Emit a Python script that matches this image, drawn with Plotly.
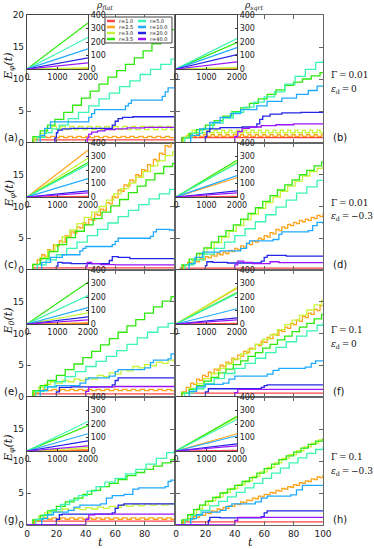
import plotly.graph_objects as go

r_values = [1.0, 2.5, 3.0, 3.5, 5.0, 10.0, 20.0, 40.0]
line_colors = ["#ff4545", "#ffa31a", "#c6f53a", "#2ee80e", "#3cf5b0", "#1faaff", "#2424e6", "#9a14ff"]

# main panels: (t, E) step points for each r value, drawn with shape="hv"
a_curves = [
    [(0, 0), (4, 0.5), (100, 0.5)],
    [(0, 0), (5, 0.6), (7, 0.9), (10, 1.05), (13, 0.85), (16, 1.05), (19, 0.85), (22, 1.05), (25, 0.85), (28, 1.05), (31, 0.85), (34, 1.05), (37, 0.85), (40, 1.05), (43, 0.85), (46, 1.05), (49, 0.85), (52, 1.05), (55, 0.85), (58, 1.05), (61, 0.85), (64, 1.05), (67, 0.85), (70, 1.05), (73, 0.85), (76, 1.05), (79, 0.85), (82, 1.05), (85, 0.85), (88, 1.05), (91, 0.85), (94, 1.05), (97, 0.85), (100, 0.85)],
    [(0, 0), (5, 0.8), (9, 1.5), (13, 2.3), (17, 2.6), (20, 2.1), (23, 2.6), (26, 2.1), (29, 2.6), (32, 2.1), (35, 2.6), (38, 2.1), (41, 2.6), (44, 2.1), (47, 2.6), (50, 2.1), (53, 2.6), (56, 2.1), (59, 2.6), (62, 2.1), (65, 2.6), (68, 2.1), (71, 2.6), (74, 2.1), (77, 2.6), (80, 2.1), (83, 2.6), (86, 2.1), (89, 2.6), (92, 2.1), (95, 2.6), (98, 2.1), (100, 2.1)],
    [(0, 0), (4, 1.0), (9, 1.9), (14, 2.8), (19, 3.7), (25, 4.8), (31, 5.9), (37, 7.0), (43, 8.1), (49, 9.2), (55, 10.3), (61, 11.3), (67, 12.3), (73, 13.3), (79, 14.4), (85, 15.5), (91, 16.6), (97, 17.7), (100, 17.7)],
    [(0, 0), (7, 0.9), (12, 1.6), (17, 2.2), (22, 2.8), (28, 3.8), (35, 4.8), (42, 5.8), (49, 6.9), (56, 7.8), (63, 8.8), (70, 9.7), (77, 10.7), (84, 11.5), (91, 12.3), (98, 13.1), (100, 13.1)],
    [(0, 0), (9, 1.2), (12, 2.3), (16, 3.3), (42, 4.0), (44, 4.6), (46, 5.2), (67, 5.8), (69, 6.2), (71, 6.7), (92, 7.3), (94, 8.0), (96, 8.6), (100, 8.6)],
    [(0, 0), (19, 0.8), (20, 1.6), (21, 2.0), (24, 2.2), (30, 2.3), (58, 2.8), (60, 3.4), (62, 3.8), (65, 4.0), (72, 4.1), (100, 4.1)],
    [(0, 0), (41, 0.8), (42, 1.4), (44, 1.7), (48, 1.9), (53, 2.1), (60, 2.2), (68, 2.35), (80, 2.45), (100, 2.5)],
]
b_curves = [
    [(0, 0), (4, 0.85), (100, 0.85)],
    [(0, 0), (5, 0.8), (7, 1.1), (9, 1.3), (11, 1.05), (14, 1.3), (16, 1.05), (19, 1.3), (21, 1.05), (24, 1.3), (26, 1.05), (29, 1.3), (31, 1.05), (34, 1.3), (36, 1.05), (39, 1.3), (41, 1.05), (44, 1.3), (46, 1.05), (49, 1.3), (51, 1.05), (54, 1.3), (56, 1.05), (59, 1.3), (61, 1.05), (64, 1.3), (66, 1.05), (69, 1.3), (71, 1.05), (74, 1.3), (76, 1.05), (79, 1.3), (81, 1.05), (84, 1.3), (86, 1.05), (89, 1.3), (91, 1.05), (94, 1.3), (96, 1.05), (99, 1.3), (100, 1.3)],
    [(0, 0), (5, 0.9), (8, 1.4), (11, 2.0), (13, 1.6), (16, 2.0), (18, 1.6), (21, 2.0), (23, 1.6), (26, 2.0), (28, 1.6), (31, 2.0), (33, 1.6), (36, 2.0), (38, 1.6), (41, 2.0), (43, 1.6), (46, 2.0), (48, 1.6), (51, 2.0), (53, 1.6), (56, 2.0), (58, 1.6), (61, 2.0), (63, 1.6), (66, 2.0), (68, 1.6), (71, 2.0), (73, 1.6), (76, 2.0), (78, 1.6), (81, 2.0), (83, 1.6), (86, 2.0), (88, 1.6), (91, 2.0), (93, 1.6), (96, 2.0), (98, 1.6), (100, 1.6)],
    [(0, 0), (4, 0.8), (9, 1.5), (14, 2.1), (20, 2.8), (26, 3.5), (32, 4.2), (38, 4.9), (44, 5.5), (50, 6.2), (56, 6.9), (62, 7.6), (68, 8.3), (74, 9.0), (80, 9.5), (86, 10.0), (92, 10.5), (98, 11.0), (100, 11.0)],
    [(0, 0), (6, 0.8), (11, 1.5), (18, 2.3), (25, 3.1), (32, 3.9), (39, 4.8), (46, 5.6), (53, 6.4), (60, 7.2), (67, 8.0), (74, 9.2), (81, 10.4), (88, 11.5), (95, 12.6), (100, 12.9)],
    [(0, 0), (10, 1.2), (16, 2.2), (23, 3.2), (30, 4.0), (37, 4.6), (44, 5.2), (55, 5.8), (62, 6.5), (72, 7.0), (82, 7.6), (90, 8.2), (96, 8.9), (100, 8.9)],
    [(0, 0), (20, 1.0), (21, 1.8), (23, 2.2), (30, 2.4), (45, 2.5), (55, 3.0), (57, 3.7), (59, 4.2), (64, 4.5), (72, 4.7), (85, 4.8), (100, 4.8)],
    [(0, 0), (40, 1.0), (42, 1.8), (45, 2.3), (50, 2.5), (58, 2.7), (68, 2.85), (80, 3.0), (100, 3.05)],
]
c_curves = [
    [(0, 0), (4, 0.35), (100, 0.35)],
    [(0, 0), (4, 0.8), (7, 1.6), (10, 2.4), (12, 2.2), (14, 3.2), (16, 3.0), (18, 4.0), (20, 3.8), (22, 4.6), (24, 4.4), (26, 5.4), (28, 5.2), (30, 6.0), (32, 5.8), (34, 6.8), (36, 6.6), (38, 7.4), (40, 7.2), (42, 8.0), (44, 7.8), (46, 8.8), (48, 8.6), (50, 9.6), (52, 9.4), (54, 10.6), (56, 10.4), (58, 11.6), (60, 11.4), (62, 12.6), (64, 12.4), (66, 13.4), (68, 13.2), (70, 14.2), (72, 14.0), (74, 15.0), (76, 14.8), (78, 15.8), (80, 15.6), (82, 16.6), (84, 16.4), (86, 17.4), (88, 17.2), (90, 18.4), (92, 18.2), (94, 19.6), (96, 19.4), (98, 20.4), (100, 20.4)],
    [(0, 0), (4, 0.9), (9, 2.0), (14, 3.0), (19, 4.0), (24, 5.2), (29, 6.3), (34, 7.3), (39, 8.3), (44, 9.1), (49, 10.0), (54, 11.0), (59, 12.0), (64, 12.8), (69, 13.7), (74, 14.6), (79, 15.5), (84, 16.4), (89, 17.2), (94, 18.0), (99, 18.6), (100, 18.6)],
    [(0, 0), (4, 0.9), (9, 1.8), (15, 2.9), (21, 4.0), (27, 5.1), (33, 6.1), (39, 7.1), (45, 8.1), (51, 9.1), (57, 10.1), (63, 11.1), (69, 12.2), (75, 13.2), (81, 14.2), (87, 15.2), (93, 16.3), (99, 16.8), (100, 16.8)],
    [(0, 0), (7, 0.8), (13, 1.6), (20, 2.4), (27, 3.4), (34, 4.4), (41, 5.4), (48, 6.4), (55, 7.4), (62, 8.4), (69, 9.4), (76, 10.3), (83, 11.2), (90, 12.0), (97, 12.7), (100, 12.7)],
    [(0, 0), (10, 1.2), (16, 2.0), (24, 2.4), (36, 3.0), (38, 3.4), (40, 3.7), (58, 4.0), (60, 4.5), (62, 5.0), (84, 5.3), (86, 6.0), (88, 6.4), (97, 6.3), (100, 6.1)],
    [(0, 0), (20, 0.6), (21, 1.2), (24, 1.1), (30, 1.0), (56, 1.5), (58, 2.1), (62, 2.0), (70, 1.8), (100, 1.8)],
    [(0, 0), (40, 0.6), (41, 1.2), (44, 1.0), (50, 0.85), (60, 0.8), (100, 0.8)],
]
d_curves = [
    [(0, 0), (3, 0.3), (100, 0.3)],
    [(0, 0), (5, 0.8), (8, 1.2), (10, 1.0), (12, 1.5), (14, 1.3), (16, 1.8), (18, 1.6), (20, 2.1), (22, 1.9), (24, 2.4), (26, 2.2), (28, 2.6), (30, 2.4), (32, 2.8), (34, 2.6), (36, 3.1), (38, 2.9), (40, 3.4), (42, 3.2), (44, 3.8), (46, 3.6), (48, 4.2), (50, 4.0), (52, 4.6), (54, 4.4), (56, 5.0), (58, 4.8), (60, 5.4), (62, 5.2), (64, 5.9), (66, 5.7), (68, 6.4), (70, 6.2), (72, 6.8), (74, 6.6), (76, 7.2), (78, 7.0), (80, 7.5), (82, 7.3), (84, 7.8), (86, 7.6), (88, 8.0), (90, 7.8), (92, 8.3), (94, 8.1), (96, 8.6), (98, 8.4), (100, 8.9)],
    [(0, 0), (6, 0.8), (11, 1.6), (16, 2.5), (21, 3.4), (26, 4.3), (31, 5.2), (36, 6.1), (41, 7.0), (46, 7.9), (51, 8.8), (56, 9.7), (61, 10.6), (66, 11.5), (71, 12.4), (76, 13.2), (81, 14.0), (86, 14.8), (91, 15.5), (96, 16.0), (100, 16.3)],
    [(0, 0), (4, 0.8), (9, 1.7), (14, 2.6), (19, 3.5), (24, 4.4), (29, 5.3), (34, 6.2), (39, 7.1), (44, 8.0), (49, 8.9), (54, 9.8), (59, 10.8), (64, 11.7), (69, 12.6), (74, 13.4), (79, 14.2), (84, 15.0), (89, 15.7), (94, 16.4), (99, 17.0), (100, 17.0)],
    [(0, 0), (6, 0.8), (12, 1.6), (19, 2.5), (26, 3.4), (33, 4.4), (40, 5.4), (47, 6.5), (54, 7.6), (61, 8.7), (68, 9.9), (75, 11.0), (82, 12.1), (89, 13.1), (96, 14.1), (100, 14.2)],
    [(0, 0), (9, 1.0), (13, 2.0), (18, 2.8), (30, 3.0), (44, 3.4), (48, 4.2), (50, 4.6), (66, 4.8), (70, 5.6), (72, 6.0), (90, 6.2), (93, 7.0), (96, 7.5), (100, 7.2)],
    [(0, 0), (20, 0.7), (21, 1.3), (25, 1.2), (35, 1.1), (58, 1.4), (60, 2.0), (62, 2.3), (75, 2.2), (100, 2.2)],
    [(0, 0), (40, 0.8), (42, 1.4), (46, 1.2), (52, 1.0), (62, 1.0), (64, 1.3), (70, 1.15), (100, 1.1)],
]
e_curves = [
    [(0, 0), (4, 0.5), (100, 0.5)],
    [(0, 0), (5, 0.7), (8, 1.0), (11, 1.2), (14, 1.0), (17, 1.2), (20, 1.0), (23, 1.2), (26, 1.0), (29, 1.2), (32, 1.0), (35, 1.2), (38, 1.0), (41, 1.2), (44, 1.0), (47, 1.2), (50, 1.0), (53, 1.2), (56, 1.0), (59, 1.2), (62, 1.0), (65, 1.2), (68, 1.0), (71, 1.2), (74, 1.0), (77, 1.2), (80, 1.0), (83, 1.2), (86, 1.0), (89, 1.2), (92, 1.0), (95, 1.2), (98, 1.0), (100, 1.0)],
    [(0, 0), (4, 0.8), (8, 1.5), (12, 2.0), (16, 2.4), (20, 2.2), (24, 2.6), (28, 2.4), (32, 2.8), (36, 2.6), (40, 3.0), (44, 2.8), (48, 3.4), (52, 3.2), (56, 3.8), (60, 3.6), (64, 4.3), (68, 4.1), (72, 4.8), (76, 4.6), (80, 5.1), (84, 4.9), (88, 5.5), (92, 5.3), (96, 5.8), (100, 5.6)],
    [(0, 0), (4, 1.0), (9, 1.8), (14, 2.6), (20, 3.4), (26, 4.3), (32, 5.2), (38, 6.2), (44, 7.2), (50, 8.2), (56, 9.2), (62, 10.2), (68, 11.2), (74, 12.2), (80, 13.2), (86, 14.2), (92, 15.1), (98, 15.8), (100, 15.8)],
    [(0, 0), (6, 0.9), (12, 1.6), (19, 2.4), (26, 3.2), (33, 4.0), (40, 4.8), (47, 5.6), (54, 6.4), (61, 7.3), (68, 8.3), (75, 9.3), (82, 10.2), (89, 11.0), (96, 11.6), (100, 11.6)],
    [(0, 0), (9, 1.0), (14, 1.6), (20, 1.8), (36, 2.2), (40, 2.8), (42, 3.0), (56, 3.3), (60, 4.0), (62, 4.3), (80, 4.6), (84, 5.4), (86, 5.8), (96, 6.0), (98, 6.8), (100, 6.9)],
    [(0, 0), (20, 0.8), (22, 1.5), (30, 1.6), (58, 1.9), (60, 2.6), (62, 3.0), (100, 3.0)],
    [(0, 0), (40, 0.9), (42, 1.5), (48, 1.6), (60, 1.65), (100, 1.7)],
]
f_curves = [
    [(0, 0), (4, 0.6), (100, 0.6)],
    [(0, 0), (4, 0.8), (7, 1.5), (10, 2.2), (12, 2.0), (14, 2.8), (16, 2.6), (18, 3.4), (20, 3.2), (22, 3.9), (24, 3.7), (26, 4.4), (28, 4.2), (30, 5.0), (32, 4.8), (34, 5.5), (36, 5.3), (38, 6.1), (40, 5.9), (42, 6.6), (44, 6.4), (46, 7.2), (48, 7.0), (50, 7.7), (52, 7.5), (54, 8.3), (56, 8.1), (58, 8.8), (60, 8.6), (62, 9.4), (64, 9.2), (66, 9.9), (68, 9.7), (70, 10.5), (72, 10.3), (74, 11.0), (76, 10.8), (78, 11.6), (80, 11.4), (82, 12.1), (84, 11.9), (86, 12.7), (88, 12.5), (90, 13.2), (92, 13.0), (94, 13.8), (96, 13.6), (98, 14.4), (100, 14.4)],
    [(0, 0), (4, 0.7), (9, 1.4), (14, 2.1), (19, 2.9), (24, 3.7), (29, 4.5), (34, 5.2), (39, 6.0), (44, 6.8), (49, 7.5), (54, 8.3), (59, 9.1), (64, 9.8), (69, 10.6), (74, 11.4), (79, 12.1), (84, 12.9), (89, 13.7), (94, 14.5), (99, 15.2), (100, 15.2)],
    [(0, 0), (4, 0.6), (9, 1.2), (14, 1.8), (19, 2.5), (24, 3.1), (29, 3.8), (34, 4.4), (39, 5.1), (44, 5.7), (49, 6.4), (54, 7.0), (59, 7.7), (64, 8.3), (69, 9.0), (74, 9.6), (79, 10.3), (84, 11.0), (89, 11.6), (94, 12.3), (99, 13.0), (100, 13.0)],
    [(0, 0), (6, 0.6), (12, 1.3), (19, 2.1), (26, 2.9), (33, 3.7), (40, 4.5), (47, 5.3), (54, 6.1), (61, 7.0), (68, 7.8), (75, 8.7), (82, 9.6), (89, 10.4), (96, 11.3), (100, 11.7)],
    [(0, 0), (9, 0.9), (14, 1.6), (20, 2.0), (32, 2.2), (36, 2.8), (40, 3.3), (62, 3.6), (66, 4.2), (70, 4.5), (88, 4.7), (92, 5.3), (95, 5.7), (100, 5.8)],
    [(0, 0), (20, 0.8), (22, 1.3), (30, 1.3), (58, 1.5), (60, 1.8), (62, 1.9), (100, 1.9)],
    [(0, 0), (40, 0.7), (42, 1.2), (50, 1.2), (100, 1.2)],
]
g_curves = [
    [(0, 0), (4, 0.6), (100, 0.6)],
    [(0, 0), (5, 0.7), (8, 0.9), (11, 1.1), (14, 0.9), (17, 1.1), (20, 0.9), (23, 1.1), (26, 0.9), (29, 1.1), (32, 0.9), (35, 1.1), (38, 0.9), (41, 1.1), (44, 0.9), (47, 1.1), (50, 0.9), (53, 1.1), (56, 0.9), (59, 1.1), (62, 0.9), (65, 1.1), (68, 0.9), (71, 1.1), (74, 0.9), (77, 1.1), (80, 0.9), (83, 1.1), (86, 0.9), (89, 1.1), (92, 0.9), (95, 1.1), (98, 0.9), (100, 0.9)],
    [(0, 0), (4, 0.8), (8, 1.4), (12, 1.9), (16, 2.3), (20, 2.1), (24, 2.5), (28, 2.3), (32, 2.6), (36, 2.4), (40, 2.7), (44, 2.5), (48, 2.8), (52, 2.6), (56, 2.9), (60, 2.7), (64, 3.1), (68, 2.9), (72, 3.2), (76, 3.0), (80, 3.3), (84, 3.1), (88, 3.3), (92, 3.1), (96, 3.3), (100, 3.1)],
    [(0, 0), (4, 0.8), (9, 1.5), (14, 2.2), (20, 2.9), (26, 3.6), (32, 4.2), (38, 4.8), (44, 5.4), (50, 6.0), (56, 6.5), (62, 7.1), (68, 7.7), (74, 8.2), (80, 8.7), (86, 9.2), (92, 9.7), (98, 10.2), (100, 10.2)],
    [(0, 0), (6, 0.9), (11, 1.6), (17, 2.4), (23, 3.2), (29, 3.9), (35, 4.6), (41, 5.3), (47, 6.0), (53, 6.7), (60, 7.3), (67, 8.0), (74, 8.7), (81, 9.5), (88, 10.4), (95, 11.3), (100, 11.6)],
    [(0, 0), (10, 1.0), (14, 1.6), (18, 2.0), (28, 2.3), (32, 2.8), (36, 3.1), (50, 3.3), (54, 4.2), (58, 4.6), (66, 4.8), (72, 5.6), (76, 5.8), (94, 6.0), (96, 6.8), (98, 7.0), (100, 7.0)],
    [(0, 0), (20, 0.9), (22, 1.6), (24, 1.7), (58, 1.9), (60, 2.6), (62, 3.1), (66, 3.3), (100, 3.4)],
    [(0, 0), (40, 0.9), (42, 1.6), (46, 1.7), (100, 1.8)],
]
h_curves = [
    [(0, 0), (4, 0.5), (100, 0.5)],
    [(0, 0), (5, 0.7), (8, 1.0), (10, 0.9), (12, 1.3), (14, 1.2), (16, 1.6), (18, 1.5), (20, 1.9), (22, 1.8), (24, 2.2), (26, 2.1), (28, 2.5), (30, 2.4), (32, 2.7), (34, 2.6), (36, 3.0), (38, 2.9), (40, 3.3), (42, 3.2), (44, 3.6), (46, 3.5), (48, 3.9), (50, 3.8), (52, 4.2), (54, 4.1), (56, 4.5), (58, 4.4), (60, 4.8), (62, 4.7), (64, 5.1), (66, 5.0), (68, 5.4), (70, 5.3), (72, 5.7), (74, 5.6), (76, 6.0), (78, 5.9), (80, 6.3), (82, 6.2), (84, 6.6), (86, 6.5), (88, 6.9), (90, 6.8), (92, 7.2), (94, 7.1), (96, 7.5), (98, 7.4), (100, 7.8)],
    [(0, 0), (6, 0.9), (10, 1.7), (14, 2.5), (18, 3.1), (22, 3.8), (27, 4.4), (32, 5.1), (37, 5.7), (42, 6.3), (47, 6.9), (52, 7.6), (57, 8.3), (62, 9.0), (67, 9.7), (72, 10.4), (77, 11.0), (82, 11.6), (87, 12.2), (92, 12.8), (97, 13.3), (100, 13.5)],
    [(0, 0), (4, 0.8), (8, 1.6), (12, 2.4), (16, 3.1), (20, 3.7), (25, 4.3), (30, 5.0), (35, 5.6), (40, 6.2), (45, 6.8), (50, 7.4), (55, 8.1), (60, 8.8), (65, 9.5), (70, 10.2), (75, 10.8), (80, 11.4), (85, 12.0), (90, 12.6), (95, 13.1), (100, 13.6)],
    [(0, 0), (6, 0.8), (11, 1.5), (17, 2.3), (23, 3.0), (29, 3.7), (35, 4.4), (41, 5.1), (47, 5.8), (53, 6.5), (59, 7.3), (65, 8.1), (71, 8.9), (77, 9.7), (83, 10.5), (89, 11.2), (95, 11.8), (100, 12.2)],
    [(0, 0), (10, 1.0), (14, 1.6), (18, 2.0), (30, 2.3), (34, 2.9), (38, 3.3), (54, 3.6), (58, 4.2), (62, 4.5), (78, 4.7), (82, 5.5), (86, 6.2), (100, 6.3)],
    [(0, 0), (22, 0.7), (23, 1.2), (30, 1.1), (58, 1.3), (60, 1.9), (62, 2.2), (100, 2.2)],
    [(0, 0), (40, 0.7), (42, 1.2), (100, 1.25)],
]

# insets: E at t=2000 (lines from the origin)
a_inset = [3, 5, 8, 340, 234, 150, 83, 45]
b_inset = [3, 6, 10, 196, 226, 158, 106, 53]
c_inset = [5, 347, 287, 255, 240, 136, 45, 30]
d_inset = [5, 143, 257, 272, 249, 158, 45, 30]
e_inset = [4, 8, 83, 309, 211, 121, 53, 30]
f_inset = [5, 264, 272, 234, 226, 113, 45, 30]
g_inset = [4, 10, 25, 189, 219, 128, 75, 38]
h_inset = [4, 128, 250, 257, 234, 113, 53, 38]

panels = [
    ("(a)", a_curves, a_inset), ("(b)", b_curves, b_inset),
    ("(c)", c_curves, c_inset), ("(d)", d_curves, d_inset),
    ("(e)", e_curves, e_inset), ("(f)", f_curves, f_inset),
    ("(g)", g_curves, g_inset), ("(h)", h_curves, h_inset),
]
row_params = [("0.01", "0"), ("0.01", "\u22120.3"), ("0.1", "0"), ("0.1", "\u22120.3")]
ylabels = ["E<sub>\u03c6</sub>(t)", "E<sub>\u03c6</sub>(t)", "E<sub>0</sub>(t)", "E<sub>\u03c6</sub>(t)"]

W, H = 374, 549


def fx(px):
    return px / W


def fy(py):
    return 1 - py / H


col_px = [(27, 174), (176, 323)]
row_px = [(15, 143), (143, 270), (270, 397), (397, 525)]
frame = "#666666"
tickfont = dict(family="DejaVu Sans", size=9, color="#222")
insetfont = dict(family="DejaVu Sans", size=8, color="#222")
serif = "DejaVu Serif"
thin = "\u2009"

fig = go.Figure()
layout = {}
annotations = []
shapes = []

for i, (label, curves, inset) in enumerate(panels):
    row, col = i // 2, i % 2
    k = i + 1
    ki = i + 9
    sk = "" if k == 1 else str(k)
    ski = str(ki)
    x0, x1 = col_px[col]
    y0, y1 = row_px[row]

    for pts, c in zip(curves, line_colors):
        fig.add_trace(go.Scatter(
            x=[p[0] for p in pts], y=[p[1] for p in pts], mode="lines",
            line=dict(color=c, width=1.3, shape="hv"),
            xaxis="x" + sk, yaxis="y" + sk, showlegend=False, hoverinfo="skip"))
    for v, c in zip(inset, line_colors):
        fig.add_trace(go.Scatter(
            x=[0, 2000], y=[0, v], mode="lines", line=dict(color=c, width=1.2),
            xaxis="x" + ski, yaxis="y" + ski, showlegend=False, hoverinfo="skip"))

    if col == 0:
        xt = ["0", "20", "40", "60", "80", ""]
    else:
        xt = ["0", "20", "40", "60", "80", "100"]
    layout["xaxis" + sk] = dict(
        domain=[fx(x0), fx(x1)], anchor="y" + sk, range=[0, 100], automargin=False,
        tickvals=[0, 20, 40, 60, 80, 100], ticktext=xt, showticklabels=(row == 3),
        ticks="inside", ticklen=4, tickcolor=frame, showline=True, linecolor=frame,
        linewidth=1.2, mirror="ticks", showgrid=False, zeroline=False, tickfont=tickfont)
    yt = ["0", "5", "10", "15", "20"] if row == 0 else ["0", "5", "10", "15", ""]
    layout["yaxis" + sk] = dict(
        domain=[fy(y1), fy(y0)], anchor="x" + sk, range=[0, 20], automargin=False,
        tickvals=[0, 5, 10, 15, 20], ticktext=yt, showticklabels=(col == 0),
        ticks="inside", ticklen=4, tickcolor=frame, showline=True, linecolor=frame,
        linewidth=1.2, mirror="ticks", showgrid=False, zeroline=False, tickfont=tickfont)
    layout["xaxis" + ski] = dict(
        domain=[fx(x0), fx(x0 + 61)], anchor="y" + ski, range=[0, 2000], automargin=False,
        tickvals=[0, 1000, 2000], ticks="inside", ticklen=2, tickcolor="#333",
        showline=True, linecolor="#444", linewidth=1.2, mirror=True,
        showgrid=False, zeroline=False, tickfont=insetfont)
    layout["yaxis" + ski] = dict(
        domain=[fy(y0 + 54), fy(y0)], anchor="x" + ski, range=[0, 400], side="right",
        automargin=False,
        tickvals=[0, 100, 200, 300, 400], ticks="inside", ticklen=2, tickcolor="#333",
        showline=True, linecolor="#444", linewidth=1.2, mirror=True,
        showgrid=False, zeroline=False, tickfont=insetfont)

    lx = 2 if col == 0 else 331
    annotations.append(dict(x=fx(lx), y=fy(y1 - 6), xref="paper", yref="paper",
                            text=label, showarrow=False, xanchor="left", yanchor="middle",
                            font=dict(family="DejaVu Sans", size=10, color="#111")))

for row in range(4):
    y0, y1 = row_px[row]
    g, e = row_params[row]
    annotations.append(dict(x=fx(329), y=fy(y0 + 60), xref="paper", yref="paper",
                            text="\u0393" + thin + "=" + thin + g, showarrow=False,
                            xanchor="left", yanchor="middle",
                            font=dict(family=serif, size=9, color="#111")))
    annotations.append(dict(x=fx(329), y=fy(y0 + 74), xref="paper", yref="paper",
                            text="<i>\u03b5</i><sub>d</sub>" + thin + "=" + thin + e,
                            showarrow=False, xanchor="left", yanchor="middle",
                            font=dict(family=serif, size=9, color="#111")))
    annotations.append(dict(x=fx(9), y=fy((y0 + y1) / 2 - 12), xref="paper", yref="paper",
                            text="<i>" + ylabels[row] + "</i>", showarrow=False, textangle=-90,
                            xanchor="center", yanchor="middle",
                            font=dict(family=serif, size=11, color="#111")))

for cx in [100, 250]:
    annotations.append(dict(x=fx(cx), y=fy(542), xref="paper", yref="paper", text="<i>t</i>",
                            showarrow=False, xanchor="center", yanchor="middle",
                            font=dict(family=serif, size=11, color="#111")))
annotations.append(dict(x=fx(104), y=fy(6), xref="paper", yref="paper",
                        text="<i>\u03c1</i><sub><i>flat</i></sub>", showarrow=False,
                        xanchor="center", yanchor="middle",
                        font=dict(family=serif, size=9, color="#111")))
annotations.append(dict(x=fx(254), y=fy(6), xref="paper", yref="paper",
                        text="<i>\u03c1</i><sub><i>sqrt</i></sub>", showarrow=False,
                        xanchor="center", yanchor="middle",
                        font=dict(family=serif, size=9, color="#111")))

# legend box in panel (a)
shapes.append(dict(type="rect", xref="paper", yref="paper", x0=fx(105), x1=fx(172),
                   y0=fy(43), y1=fy(17), fillcolor="white", line=dict(color="#444", width=1),
                   layer="above"))
for j, (r, c) in enumerate(zip(r_values, line_colors)):
    lx = 107 if j < 4 else 138
    ly = 21 + 6 * (j % 4)
    shapes.append(dict(type="line", xref="paper", yref="paper", x0=fx(lx), x1=fx(lx + 8),
                       y0=fy(ly), y1=fy(ly), line=dict(color=c, width=2.5), layer="above"))
    annotations.append(dict(x=fx(lx + 10), y=fy(ly), xref="paper", yref="paper",
                            text="r=%.1f" % r, showarrow=False, xanchor="left", yanchor="middle",
                            font=dict(family="DejaVu Sans", size=5, color="#111")))

fig.update_layout(
    width=W, height=H,
    margin=dict(l=0, r=0, t=0, b=0),
    paper_bgcolor="white", plot_bgcolor="white",
    annotations=annotations, shapes=shapes,
    **layout,
)

fig.write_html("out.html", config={"displayModeBar": False},
               post_script="document.body.style.margin='0';")
